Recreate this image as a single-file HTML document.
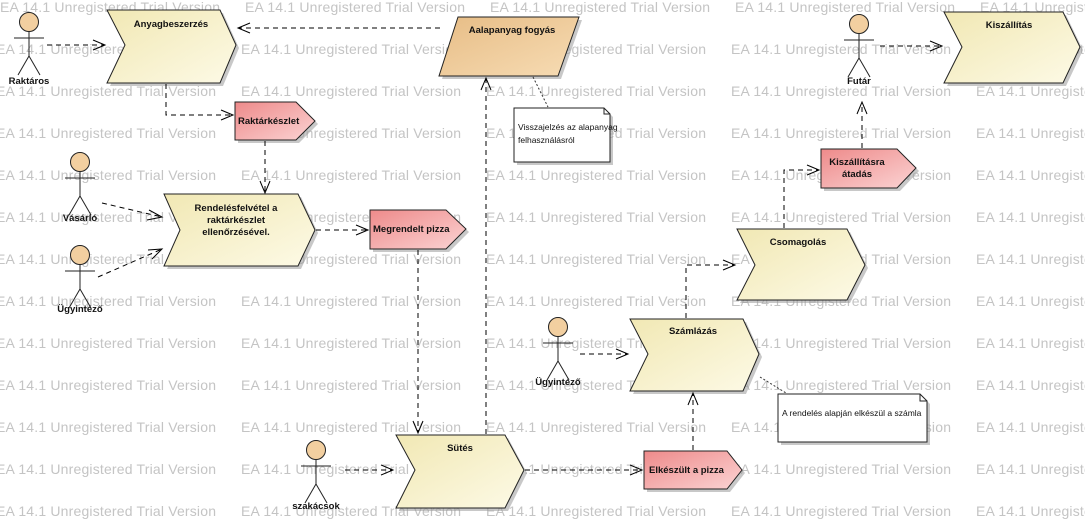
<!DOCTYPE html>
<html><head><meta charset="utf-8"><style>
html,body{margin:0;padding:0;background:#fff;}
svg{display:block;}
.wm{font-family:"Liberation Sans",sans-serif;font-size:14px;fill:#c4c4c4;}
.lb{font-family:"Liberation Sans",sans-serif;font-size:9.5px;font-weight:bold;fill:#111;}
.nt{font-family:"Liberation Sans",sans-serif;font-size:8.5px;fill:#111;}
.c{stroke:#000;stroke-width:1;fill:none;stroke-dasharray:5,4;}
.ah{stroke:#000;stroke-width:1;fill:none;}
.sh{fill:#9a9a9a;opacity:.55;}
.dot{stroke:#333;stroke-width:1;fill:none;stroke-dasharray:2,2;}
</style></head><body>
<svg width="1085" height="521" viewBox="0 0 1085 521" xmlns="http://www.w3.org/2000/svg">
<defs>
<linearGradient id="y" x1="0" y1="0" x2="1" y2="1"><stop offset="0" stop-color="#f1e8b4"/><stop offset="1" stop-color="#fdfae6"/></linearGradient>
<linearGradient id="p" x1="0" y1="0" x2="1" y2="1"><stop offset="0" stop-color="#ee8a8a"/><stop offset="1" stop-color="#fbd4d4"/></linearGradient>
<linearGradient id="o" x1="0" y1="0" x2="1" y2="1"><stop offset="0" stop-color="#e7bd86"/><stop offset="1" stop-color="#f7dcb4"/></linearGradient>
</defs>
<g class="wm">
<text x="0" y="12" textLength="220">EA 14.1 Unregistered Trial Version</text><text x="245" y="12" textLength="220">EA 14.1 Unregistered Trial Version</text><text x="490" y="12" textLength="220">EA 14.1 Unregistered Trial Version</text><text x="735" y="12" textLength="220">EA 14.1 Unregistered Trial Version</text><text x="980" y="12" textLength="220">EA 14.1 Unregistered Trial Version</text>
<text x="-4" y="54" textLength="220">EA 14.1 Unregistered Trial Version</text><text x="241" y="54" textLength="220">EA 14.1 Unregistered Trial Version</text><text x="486" y="54" textLength="220">EA 14.1 Unregistered Trial Version</text><text x="731" y="54" textLength="220">EA 14.1 Unregistered Trial Version</text><text x="976" y="54" textLength="220">EA 14.1 Unregistered Trial Version</text>
<text x="-4" y="96" textLength="220">EA 14.1 Unregistered Trial Version</text><text x="241" y="96" textLength="220">EA 14.1 Unregistered Trial Version</text><text x="486" y="96" textLength="220">EA 14.1 Unregistered Trial Version</text><text x="731" y="96" textLength="220">EA 14.1 Unregistered Trial Version</text><text x="976" y="96" textLength="220">EA 14.1 Unregistered Trial Version</text>
<text x="-4" y="138" textLength="220">EA 14.1 Unregistered Trial Version</text><text x="241" y="138" textLength="220">EA 14.1 Unregistered Trial Version</text><text x="486" y="138" textLength="220">EA 14.1 Unregistered Trial Version</text><text x="731" y="138" textLength="220">EA 14.1 Unregistered Trial Version</text><text x="976" y="138" textLength="220">EA 14.1 Unregistered Trial Version</text>
<text x="-4" y="180" textLength="220">EA 14.1 Unregistered Trial Version</text><text x="241" y="180" textLength="220">EA 14.1 Unregistered Trial Version</text><text x="486" y="180" textLength="220">EA 14.1 Unregistered Trial Version</text><text x="731" y="180" textLength="220">EA 14.1 Unregistered Trial Version</text><text x="976" y="180" textLength="220">EA 14.1 Unregistered Trial Version</text>
<text x="-4" y="222" textLength="220">EA 14.1 Unregistered Trial Version</text><text x="241" y="222" textLength="220">EA 14.1 Unregistered Trial Version</text><text x="486" y="222" textLength="220">EA 14.1 Unregistered Trial Version</text><text x="731" y="222" textLength="220">EA 14.1 Unregistered Trial Version</text><text x="976" y="222" textLength="220">EA 14.1 Unregistered Trial Version</text>
<text x="-4" y="264" textLength="220">EA 14.1 Unregistered Trial Version</text><text x="241" y="264" textLength="220">EA 14.1 Unregistered Trial Version</text><text x="486" y="264" textLength="220">EA 14.1 Unregistered Trial Version</text><text x="731" y="264" textLength="220">EA 14.1 Unregistered Trial Version</text><text x="976" y="264" textLength="220">EA 14.1 Unregistered Trial Version</text>
<text x="-4" y="306" textLength="220">EA 14.1 Unregistered Trial Version</text><text x="241" y="306" textLength="220">EA 14.1 Unregistered Trial Version</text><text x="486" y="306" textLength="220">EA 14.1 Unregistered Trial Version</text><text x="731" y="306" textLength="220">EA 14.1 Unregistered Trial Version</text><text x="976" y="306" textLength="220">EA 14.1 Unregistered Trial Version</text>
<text x="-4" y="348" textLength="220">EA 14.1 Unregistered Trial Version</text><text x="241" y="348" textLength="220">EA 14.1 Unregistered Trial Version</text><text x="486" y="348" textLength="220">EA 14.1 Unregistered Trial Version</text><text x="731" y="348" textLength="220">EA 14.1 Unregistered Trial Version</text><text x="976" y="348" textLength="220">EA 14.1 Unregistered Trial Version</text>
<text x="-4" y="390" textLength="220">EA 14.1 Unregistered Trial Version</text><text x="241" y="390" textLength="220">EA 14.1 Unregistered Trial Version</text><text x="486" y="390" textLength="220">EA 14.1 Unregistered Trial Version</text><text x="731" y="390" textLength="220">EA 14.1 Unregistered Trial Version</text><text x="976" y="390" textLength="220">EA 14.1 Unregistered Trial Version</text>
<text x="-4" y="432" textLength="220">EA 14.1 Unregistered Trial Version</text><text x="241" y="432" textLength="220">EA 14.1 Unregistered Trial Version</text><text x="486" y="432" textLength="220">EA 14.1 Unregistered Trial Version</text><text x="731" y="432" textLength="220">EA 14.1 Unregistered Trial Version</text><text x="976" y="432" textLength="220">EA 14.1 Unregistered Trial Version</text>
<text x="-4" y="474" textLength="220">EA 14.1 Unregistered Trial Version</text><text x="241" y="474" textLength="220">EA 14.1 Unregistered Trial Version</text><text x="486" y="474" textLength="220">EA 14.1 Unregistered Trial Version</text><text x="731" y="474" textLength="220">EA 14.1 Unregistered Trial Version</text><text x="976" y="474" textLength="220">EA 14.1 Unregistered Trial Version</text>
<text x="-4" y="516" textLength="220">EA 14.1 Unregistered Trial Version</text><text x="241" y="516" textLength="220">EA 14.1 Unregistered Trial Version</text><text x="486" y="516" textLength="220">EA 14.1 Unregistered Trial Version</text><text x="731" y="516" textLength="220">EA 14.1 Unregistered Trial Version</text><text x="976" y="516" textLength="220">EA 14.1 Unregistered Trial Version</text>
</g>

<!-- shapes: chevrons -->
<g stroke="#222" stroke-width="1">
<polygon class="sh" stroke="none" points="110,13 223,13 239,48 223,86 110,86 128,48"/>
<polygon fill="url(#y)" points="107,10 220,10 236,45 220,83 107,83 125,45"/>
<polygon class="sh" stroke="none" points="167,197 301,197 318,233 301,269 167,269 183,233"/>
<polygon fill="url(#y)" points="164,194 298,194 315,230 298,266 164,266 180,230"/>
<polygon class="sh" stroke="none" points="399,438 508,438 527,473 508,511 399,511 418,473"/>
<polygon fill="url(#y)" points="396,435 505,435 524,470 505,508 396,508 415,470"/>
<polygon class="sh" stroke="none" points="633,322 746,322 762,357 746,394 633,394 651,357"/>
<polygon fill="url(#y)" points="630,319 743,319 759,354 743,391 630,391 648,354"/>
<polygon class="sh" stroke="none" points="740,232 850,232 868,268 850,303 740,303 758,268"/>
<polygon fill="url(#y)" points="737,229 847,229 865,265 847,300 737,300 755,265"/>
<polygon class="sh" stroke="none" points="947,15 1066,15 1083,50 1066,86 947,86 965,50"/>
<polygon fill="url(#y)" points="944,12 1063,12 1080,47 1063,83 944,83 962,47"/>
<!-- parallelogram -->
<polygon class="sh" stroke="none" points="461,20 582,20 561,79 442,79"/>
<polygon fill="url(#o)" points="458,17 579,17 558,76 439,76"/>
<!-- pentagons -->
<polygon class="sh" stroke="none" points="238,105 299,105 318,124 299,143 238,143"/>
<polygon fill="url(#p)" points="235,102 296,102 315,121 296,140 235,140"/>
<polygon class="sh" stroke="none" points="373,213 449,213 469,232 449,252 373,252"/>
<polygon fill="url(#p)" points="370,210 446,210 466,229 446,249 370,249"/>
<polygon class="sh" stroke="none" points="647,454 730,454 745,473 730,492 647,492"/>
<polygon fill="url(#p)" points="644,451 727,451 742,470 727,489 644,489"/>
<polygon class="sh" stroke="none" points="824,152 900,152 919,171 900,191 824,191"/>
<polygon fill="url(#p)" points="821,149 897,149 916,168 897,188 821,188"/>
<!-- notes -->
<polygon class="sh" stroke="none" points="517,111 607,111 613,117 613,165 517,165"/>
<polygon fill="#fff" points="514,108 604,108 610,114 610,162 514,162"/>
<polyline fill="none" points="604,108 604,114 610,114"/>
<polygon class="sh" stroke="none" points="781,397 923,397 930,404 930,445 781,445"/>
<polygon fill="#fff" points="778,394 920,394 927,401 927,442 778,442"/>
<polyline fill="none" points="920,394 920,401 927,401"/>
</g>

<!-- labels -->
<g class="lb" text-anchor="middle">
<text x="171" y="27">Anyagbeszerzés</text>
<text x="512" y="33">Aalapanyag fogyás</text>
<text x="236" y="211">Rendelésfelvétel a</text>
<text x="236" y="223">raktárkészlet</text>
<text x="236" y="235">ellenőrzésével.</text>
<text x="460" y="451">Sütés</text>
<text x="693" y="334">Számlázás</text>
<text x="798" y="245">Csomagolás</text>
<text x="1009" y="28">Kiszállítás</text>
<text x="857" y="165">Kiszállításra</text>
<text x="857" y="177">átadás</text>
<text x="29" y="84">Raktáros</text>
<text x="80" y="221">Vásárló</text>
<text x="80" y="312">Ügyintéző</text>
<text x="316" y="509">szakácsok</text>
<text x="558" y="385">Ügyintéző</text>
<text x="859" y="84">Futár</text>
</g>
<g class="lb">
<text x="238" y="124">Raktárkészlet</text>
<text x="373" y="232">Megrendelt pizza</text>
<text x="649" y="473">Elkészült a pizza</text>
</g>
<g class="nt">
<text x="518" y="130">Visszajelzés az alapanyag</text>
<text x="518" y="143">felhasználásról</text>
<text x="782" y="416">A rendelés alapján elkészül a számla</text>
</g>

<!-- actors -->
<g stroke="#222" stroke-width="1" fill="none">
<g transform="translate(29,0)"><circle cx="0" cy="22" r="9.5" fill="#f2cfa0"/><line x1="0" y1="31.5" x2="0" y2="56"/><line x1="-15" y1="38" x2="15" y2="38"/><line x1="0" y1="56" x2="-11" y2="75"/><line x1="0" y1="56" x2="11" y2="75"/></g>
<g transform="translate(80,140)"><circle cx="0" cy="22" r="9.5" fill="#f2cfa0"/><line x1="0" y1="31.5" x2="0" y2="56"/><line x1="-15" y1="38" x2="15" y2="38"/><line x1="0" y1="56" x2="-11" y2="75"/><line x1="0" y1="56" x2="11" y2="75"/></g>
<g transform="translate(80,233)"><circle cx="0" cy="22" r="9.5" fill="#f2cfa0"/><line x1="0" y1="31.5" x2="0" y2="56"/><line x1="-15" y1="38" x2="15" y2="38"/><line x1="0" y1="56" x2="-11" y2="75"/><line x1="0" y1="56" x2="11" y2="75"/></g>
<g transform="translate(316,428)"><circle cx="0" cy="22" r="9.5" fill="#f2cfa0"/><line x1="0" y1="31.5" x2="0" y2="56"/><line x1="-15" y1="38" x2="15" y2="38"/><line x1="0" y1="56" x2="-11" y2="75"/><line x1="0" y1="56" x2="11" y2="75"/></g>
<g transform="translate(558,305)"><circle cx="0" cy="22" r="9.5" fill="#f2cfa0"/><line x1="0" y1="31.5" x2="0" y2="56"/><line x1="-15" y1="38" x2="15" y2="38"/><line x1="0" y1="56" x2="-11" y2="75"/><line x1="0" y1="56" x2="11" y2="75"/></g>
<g transform="translate(859,2)"><circle cx="0" cy="22" r="9.5" fill="#f2cfa0"/><line x1="0" y1="31.5" x2="0" y2="56"/><line x1="-15" y1="38" x2="15" y2="38"/><line x1="0" y1="56" x2="-11" y2="75"/><line x1="0" y1="56" x2="11" y2="75"/></g>
</g>

<!-- connectors -->
<path class="c" d="M47,45 H105"/><path class="ah" d="M93,40 L105,45 L93,50"/>
<path class="c" d="M440,28 H238"/><path class="ah" d="M250,23 L238,28 L250,33"/>
<path class="c" d="M166,84 V115 H233"/><path class="ah" d="M221,110 L233,115 L221,120"/>
<path class="c" d="M265,141 V193"/><path class="ah" d="M260,181 L265,193 L270,181"/>
<path class="c" d="M102,203 L162,217"/><path class="ah" d="M149,210 L162,217 L147,220"/>
<path class="c" d="M98,277 L162,249"/><path class="ah" d="M148,250 L162,249 L152,259"/>
<path class="c" d="M316,230 H368"/><path class="ah" d="M356,225 L368,230 L356,235"/>
<path class="c" d="M418,250 V433"/><path class="ah" d="M413,421 L418,433 L423,421"/>
<path class="c" d="M486,434 V78"/><path class="ah" d="M481,90 L486,78 L491,90"/>
<path class="c" d="M345,470 H393"/><path class="ah" d="M381,465 L393,470 L381,475"/>
<path class="c" d="M525,470 H642"/><path class="ah" d="M630,465 L642,470 L630,475"/>
<path class="c" d="M693,450 V393"/><path class="ah" d="M688,405 L693,393 L698,405"/>
<path class="c" d="M580,354 H628"/><path class="ah" d="M616,349 L628,354 L616,359"/>
<path class="c" d="M686,318 V265 H735"/><path class="ah" d="M723,260 L735,265 L723,270"/>
<path class="c" d="M784,228 V170 H819"/><path class="ah" d="M807,165 L819,170 L807,175"/>
<path class="c" d="M862,148 V102"/><path class="ah" d="M857,114 L862,102 L867,114"/>
<path class="c" d="M880,46 H942"/><path class="ah" d="M930,41 L942,46 L930,51"/>
<path class="dot" d="M533,77 L548,107"/>
<path class="dot" d="M760,377 L786,393"/>
</svg>
</body></html>
